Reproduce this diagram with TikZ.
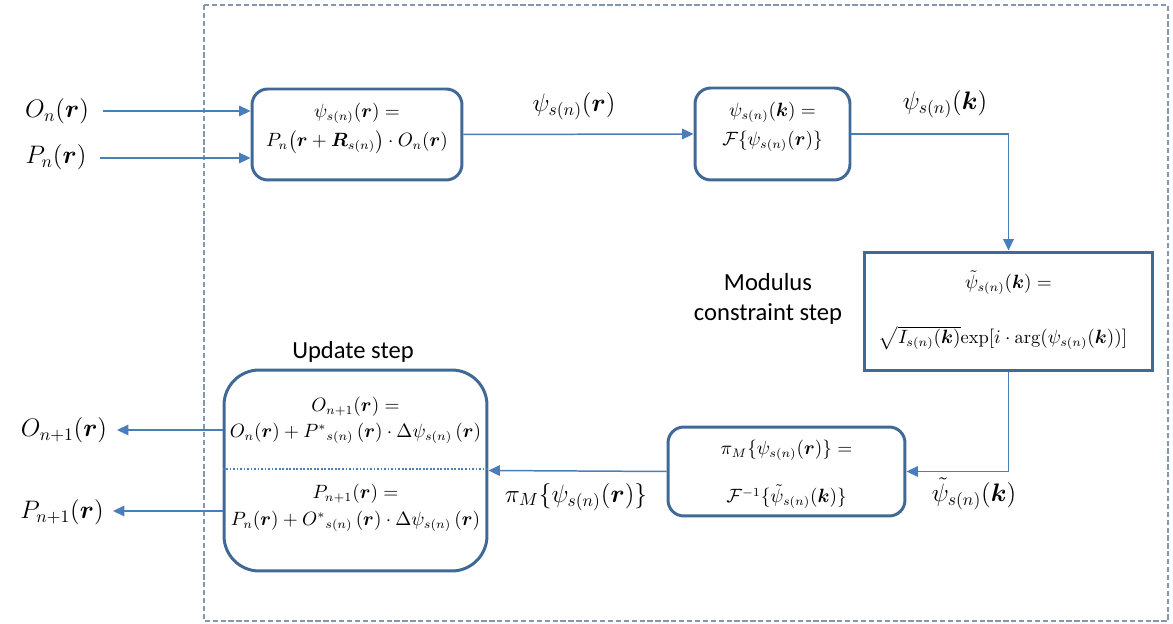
\documentclass[tikz,border=0pt]{standalone}
\usepackage{amsmath}
\usepackage{bm}
\usepackage{fontspec}
\newfontfamily\labelfont{Carlito}
\usetikzlibrary{arrows.meta}

\definecolor{flow}{RGB}{74,126,187}
\definecolor{boxline}{RGB}{65,105,150}
\definecolor{frameline}{RGB}{132,151,176}

\newcommand{\rr}{\bm{r}}
\newcommand{\kk}{\bm{k}}
\newcommand{\sn}{s(n)}

\tikzset{
  flowarrow/.style={draw=flow, line width=0.85pt, -{Triangle[length=6.5pt,width=6pt]}},
  stepbox/.style={draw=boxline, line width=1.7pt, rounded corners=9pt, align=center, inner sep=2pt},
  sharpbox/.style={draw=boxline, line width=1.7pt, align=center, inner sep=2pt},
  boxtext/.style={font=\fontsize{10.5}{16}\selectfont, align=center},
  biglabel/.style={font=\fontsize{14}{17}\selectfont},
  steplabel/.style={font=\labelfont\fontsize{14}{17.5}\selectfont, align=center},
}

\begin{document}
\begin{tikzpicture}[x=0.02cm,y=-0.02cm]
  \useasboundingbox (0,0) rectangle (1173,624);

  % dashed frame around the iteration
  \draw[frameline, line width=0.6pt, dash pattern=on 3pt off 1.5pt] (204,5) rectangle (1168,621);

  % exit-wave box
  \node[stepbox, minimum width=4.2cm, minimum height=1.82cm] (b1) at (357,134.5) {};
  \node[boxtext] at (357,113) {$\psi_{\sn}(\rr) =$};
  \node[boxtext] at (357,142) {$P_n\bigl(\rr + \bm{R}_{\sn}\bigr)\cdot O_n(\rr)$};

  % Fourier transform box
  \node[stepbox, minimum width=3.1cm, minimum height=1.84cm] (b2) at (772.5,134) {};
  \node[boxtext] at (772.5,112) {$\psi_{\sn}(\kk) =$};
  \node[boxtext] at (772.5,141) {$\mathcal{F}\{\psi_{\sn}(\rr)\}$};

  % modulus constraint box
  \node[sharpbox, minimum width=5.78cm, minimum height=2.38cm] (b3) at (1008.5,311.5) {};
  \node[boxtext] at (1008.5,283) {$\tilde{\psi}_{\sn}(\kk) =$};
  \node[boxtext] at (1003,338) {$\sqrt{I_{\sn}(\kk)}\mathrm{exp}[i\cdot\arg(\psi_{\sn}(\kk))]$};

  % inverse transform box
  \node[stepbox, minimum width=4.74cm, minimum height=1.78cm] (b4) at (786.5,471.5) {};
  \node[boxtext] at (786.5,450) {$\pi_M\{\psi_{\sn}(\rr)\} =$};
  \node[boxtext] at (786.5,497) {$\mathcal{F}^{-1}\{\tilde{\psi}_{\sn}(\kk)\}$};

  % update box
  \node[stepbox, rounded corners=20pt, minimum width=5.26cm, minimum height=4.02cm] (up) at (355.5,470.5) {};
  \node[boxtext] at (355.5,407) {$O_{n+1}(\rr) =$};
  \node[boxtext] at (355.5,433) {$O_n(\rr) + {P^{*}}_{\sn}\,(\rr)\cdot\Delta\psi_{\sn}\,(\rr)$};
  \node[boxtext] at (355.5,494) {$P_{n+1}(\rr) =$};
  \node[boxtext] at (355.5,521) {$P_n(\rr) + {O^{*}}_{\sn}\,(\rr)\cdot\Delta\psi_{\sn}\,(\rr)$};
  \draw[flow, line width=0.7pt, dash pattern=on 1pt off 1pt] (up.west |- 0,469) -- (up.east |- 0,469);

  % step captions
  \node[steplabel] at (768,299) {Modulus\\constraint step};
  \node[steplabel] at (353,352) {Update step};

  % inputs
  \node[biglabel] (oin) at (57,111) {$O_n(\rr)$};
  \node[biglabel] (pin) at (56,157) {$P_n(\rr)$};
  \coordinate (oinstart) at (103,111);
  \coordinate (pinstart) at (100,158);
  \draw[flowarrow] (oinstart) -- (oinstart -| b1.west);
  \draw[flowarrow] (pinstart) -- (pinstart -| b1.west);

  % forward path
  \draw[flowarrow] (b1.east) -- (b2.west);
  \node[biglabel] (psir) at (574,106) {$\psi_{\sn}(\rr)$};
  \draw[flowarrow] (b2.east) -| (b3.north);
  \node[biglabel] (psik) at (945,104) {$\psi_{\sn}(\kk)$};
  \draw[flowarrow] (b3.south) |- (b4.east);
  \node[biglabel] (psitk) at (974,494) {$\tilde{\psi}_{\sn}(\kk)$};
  \draw[flowarrow] (b4.west) -- (up.east);
  \node[biglabel] (pim) at (576,497) {$\pi_M\{\psi_{\sn}(\rr)\}$};

  % outputs
  \node[biglabel] (oout) at (64,430) {$O_{n+1}(\rr)$};
  \node[biglabel] (pout) at (62,512) {$P_{n+1}(\rr)$};
  \coordinate (ooutend) at (117,430);
  \coordinate (poutend) at (113,511);
  \draw[flowarrow] (ooutend -| up.west) -- (ooutend);
  \draw[flowarrow] (poutend -| up.west) -- (poutend);
\end{tikzpicture}
\end{document}
